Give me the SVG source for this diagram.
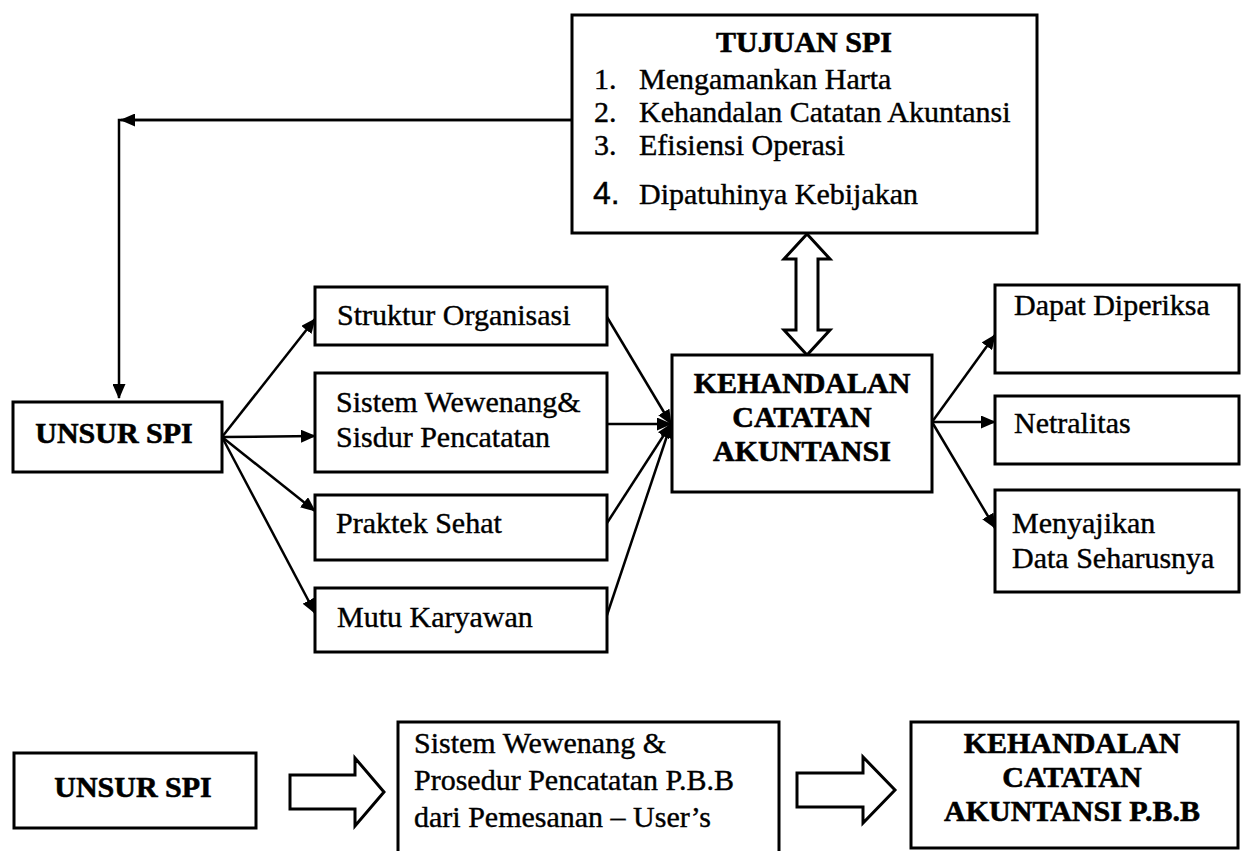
<svg xmlns="http://www.w3.org/2000/svg" width="1242" height="851" viewBox="0 0 1242 851">
<style>
.box{fill:#fff;stroke:#000;stroke-width:3}
.t{font-family:"Liberation Serif","Times New Roman",serif;font-size:30px;fill:#000;stroke:#000;stroke-width:0.4}
.b{font-weight:bold;stroke-width:0.6}
.c{text-anchor:middle}
.ln{stroke:#000;stroke-width:2.5;fill:none}
.blk{fill:#fff;stroke:#000;stroke-width:3;stroke-linejoin:miter}
</style>
<defs>
<marker id="ah" markerWidth="15" markerHeight="13" refX="14" refY="6.5" orient="auto" markerUnits="userSpaceOnUse">
<path d="M0,0 L15,6.5 L0,13 Z" fill="#000"/>
</marker>
</defs>
<rect width="1242" height="851" fill="#fff"/>

<g id="connectors">
<polyline class="ln" points="572,120 119,120 119,398" marker-end="url(#ah)"/>
<line class="ln" x1="572" y1="120" x2="121" y2="120" marker-end="url(#ah)"/>
<line class="ln" x1="222" y1="437" x2="315" y2="319" marker-end="url(#ah)"/>
<line class="ln" x1="222" y1="437" x2="315" y2="436" marker-end="url(#ah)"/>
<line class="ln" x1="222" y1="437" x2="315" y2="511" marker-end="url(#ah)"/>
<line class="ln" x1="222" y1="437" x2="315" y2="613" marker-end="url(#ah)"/>
<line class="ln" x1="607" y1="317" x2="671" y2="424" marker-end="url(#ah)"/>
<line class="ln" x1="607" y1="424" x2="671" y2="424" marker-end="url(#ah)"/>
<line class="ln" x1="607" y1="523" x2="671" y2="424" marker-end="url(#ah)"/>
<line class="ln" x1="606" y1="618" x2="671" y2="424" marker-end="url(#ah)"/>
<line class="ln" x1="932" y1="422" x2="995" y2="335" marker-end="url(#ah)"/>
<line class="ln" x1="932" y1="422" x2="995" y2="422" marker-end="url(#ah)"/>
<line class="ln" x1="932" y1="422" x2="995" y2="528" marker-end="url(#ah)"/>
<path class="blk" d="M807,234 L830,259 L818,259 L818,330 L830,330 L807,355 L784,330 L796,330 L796,259 L784,259 Z"/>
<path class="blk" d="M290,775 L355,775 L355,758 L384,792 L355,826 L355,809 L290,809 Z"/>
<path class="blk" d="M797,773 L863,773 L863,757 L895,790 L863,823 L863,807 L797,807 Z"/>
</g>

<g id="tujuan">
<rect class="box" x="572" y="15" width="465" height="218"/>
<text class="t b c" x="804" y="52">TUJUAN SPI</text>
<text class="t" x="594" y="89">1.</text><text class="t" x="639" y="89">Mengamankan Harta</text>
<text class="t" x="594" y="122">2.</text><text class="t" x="639" y="122">Kehandalan Catatan Akuntansi</text>
<text class="t" x="594" y="155">3.</text><text class="t" x="639" y="155">Efisiensi Operasi</text>
<text class="t" x="593" y="204" style="font-family:'Liberation Sans',Arial,sans-serif;font-size:32px">4.</text><text class="t" x="639" y="204">Dipatuhinya Kebijakan</text>
</g>

<g id="unsur1">
<rect class="box" x="13" y="402" width="209" height="70"/>
<text class="t b c" x="114" y="443">UNSUR SPI</text>
</g>

<g id="struktur">
<rect class="box" x="315" y="287" width="292" height="58"/>
<text class="t" x="337" y="325">Struktur Organisasi</text>
</g>

<g id="sistem">
<rect class="box" x="315" y="373" width="292" height="99"/>
<text class="t" x="336" y="412">Sistem Wewenang&amp;</text>
<text class="t" x="336" y="447">Sisdur Pencatatan</text>
</g>

<g id="praktek">
<rect class="box" x="315" y="495" width="292" height="65"/>
<text class="t" x="336" y="533">Praktek Sehat</text>
</g>

<g id="mutu">
<rect class="box" x="315" y="588" width="292" height="64"/>
<text class="t" x="337" y="627">Mutu Karyawan</text>
</g>

<g id="kehandalan">
<rect class="box" x="672" y="355" width="260" height="137"/>
<text class="t b c" x="802" y="393">KEHANDALAN</text>
<text class="t b c" x="802" y="427">CATATAN</text>
<text class="t b c" x="802" y="461">AKUNTANSI</text>
</g>

<g id="dapat">
<rect class="box" x="995" y="285" width="244" height="88"/>
<text class="t" x="1014" y="315">Dapat Diperiksa</text>
</g>

<g id="netralitas">
<rect class="box" x="995" y="396" width="244" height="68"/>
<text class="t" x="1014" y="433">Netralitas</text>
</g>

<g id="menyajikan">
<rect class="box" x="995" y="490" width="244" height="102"/>
<text class="t" x="1012" y="533">Menyajikan</text>
<text class="t" x="1012" y="568">Data Seharusnya</text>
</g>

<g id="unsur2">
<rect class="box" x="14" y="753" width="242" height="75"/>
<text class="t b c" x="133" y="797">UNSUR SPI</text>
</g>

<g id="sistem2">
<rect class="box" x="398" y="722" width="381" height="140"/>
<text class="t" x="414" y="753">Sistem Wewenang &amp;</text>
<text class="t" x="414" y="790">Prosedur Pencatatan P.B.B</text>
<text class="t" x="414" y="827">dari Pemesanan – User’s</text>
</g>

<g id="kehandalan2">
<rect class="box" x="911" y="722" width="327" height="126"/>
<text class="t b c" x="1072" y="753">KEHANDALAN</text>
<text class="t b c" x="1072" y="787">CATATAN</text>
<text class="t b c" x="1072" y="821">AKUNTANSI P.B.B</text>
</g>
</svg>
